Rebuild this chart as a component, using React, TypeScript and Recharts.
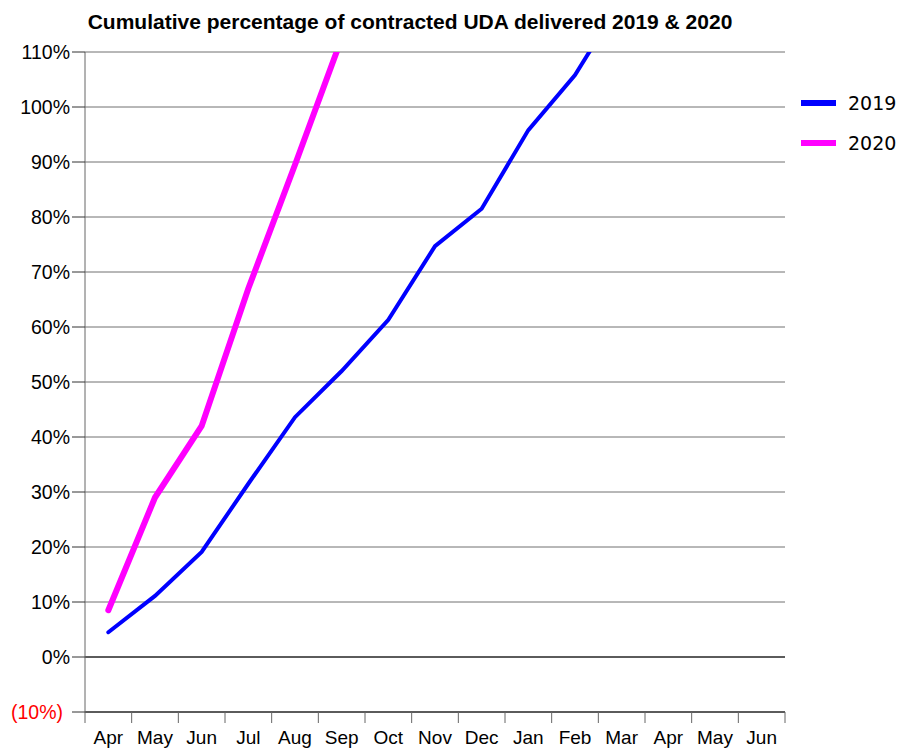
import React from 'react';
import { LineChart, Line, XAxis, YAxis, CartesianGrid, ReferenceLine } from 'recharts';

const months = ['Apr', 'May', 'Jun', 'Jul', 'Aug', 'Sep', 'Oct', 'Nov', 'Dec', 'Jan', 'Feb', 'Mar', 'Apr', 'May', 'Jun'];
const values2019 = [0.045, 0.111, 0.191, 0.315, 0.436, 0.52, 0.613, 0.747, 0.815, 0.958, 1.058, 1.195];
const values2020 = [0.085, 0.29, 0.42, 0.67, 0.895, 1.125];
const yTicks = [-0.1, 0, 0.1, 0.2, 0.3, 0.4, 0.5, 0.6, 0.7, 0.8, 0.9, 1.0, 1.1];
const xTicks = months.map((_, i) => i).concat([months.length]);
const seriesLegend = [
  { label: '2019', color: '#0000ff' },
  { label: '2020', color: '#ff00ff' },
];

const FONT = '"Liberation Sans", Arial, sans-serif';

const data = months.map((m, i) => ({
  x: i + 0.5,
  month: m,
  y2019: i < values2019.length ? values2019[i] : null,
  y2020: i < values2020.length ? values2020[i] : null,
}));

const XTick = (props: any) => {
  const { x, y, payload } = props;
  const i = payload.value;
  if (i >= months.length) return null;
  const band = 700 / months.length;
  return (
    <text x={x + band / 2} y={y + 19} textAnchor="middle" fontSize={19} fontFamily={FONT} fill="#000">
      {months[i]}
    </text>
  );
};

const YTick = (props: any) => {
  const { x, y, payload } = props;
  const v = Math.round(payload.value * 100);
  const neg = v < 0;
  return (
    <text
      x={neg ? x - 7 : x}
      y={y}
      dy="0.36em"
      textAnchor="end"
      fontSize={19.5}
      fontFamily={FONT}
      fill={neg ? '#ff0000' : '#000'}
    >
      {neg ? `(${-v}%)` : `${v}%`}
    </text>
  );
};

export default function App() {
  return (
    <div style={{ position: 'absolute', left: 0, top: 0, width: 903, height: 749, background: '#fff' }}>
      <div
        style={{
          position: 'absolute',
          left: 0,
          width: 820,
          top: 10,
          textAlign: 'center',
          fontFamily: FONT,
          fontWeight: 'bold',
          fontSize: 21,
        }}
      >
        Cumulative percentage of contracted UDA delivered 2019 &amp; 2020
      </div>
      <div style={{ position: 'absolute', left: 801, top: 83, fontFamily: '"DejaVu Sans", sans-serif', fontSize: 19 }}>
        {seriesLegend.map((it) => (
          <div key={it.label} style={{ display: 'flex', alignItems: 'center', height: 40 }}>
            <div style={{ width: 35, height: 6, background: it.color, marginRight: 12 }} />
            <span>{it.label}</span>
          </div>
        ))}
      </div>
      <LineChart width={903} height={749} data={data} margin={{ top: 52, right: 118, bottom: 7, left: 0 }}>
        <CartesianGrid vertical={false} stroke="#707070" strokeWidth={1} />
        <ReferenceLine y={0} stroke="#000" strokeWidth={1} />
        <XAxis
          dataKey="x"
          type="number"
          domain={[0, months.length]}
          ticks={xTicks}
          interval={0}
          height={30}
          tick={<XTick />}
          tickSize={11}
          axisLine={{ stroke: '#000' }}
          tickLine={{ stroke: '#666' }}
        />
        <YAxis
          width={85}
          domain={[-0.1, 1.1]}
          ticks={yTicks}
          interval={0}
          allowDataOverflow
          tick={<YTick />}
          tickSize={13}
          axisLine={{ stroke: '#666' }}
          tickLine={{ stroke: '#333' }}
        />
        <Line
          type="linear"
          dataKey="y2019"
          stroke="#0000ff"
          strokeWidth={4}
          strokeLinecap="round"
          dot={false}
          isAnimationActive={false}
        />
        <Line
          type="linear"
          dataKey="y2020"
          stroke="#ff00ff"
          strokeWidth={6}
          strokeLinecap="round"
          dot={false}
          isAnimationActive={false}
        />
      </LineChart>
    </div>
  );
}
